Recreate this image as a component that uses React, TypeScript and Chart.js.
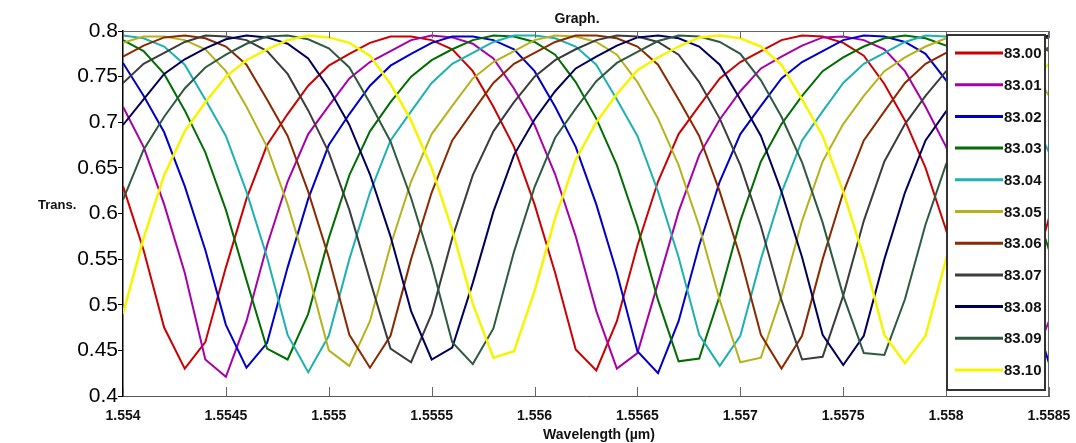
import React, { useEffect, useRef } from "react";
import { Chart, registerables } from "chart.js";

Chart.register(...registerables);

const wavelengths = [
  1.554, 1.5541, 1.5542, 1.5543, 1.5544, 1.5545, 1.5546, 1.5547, 1.5548, 1.5549,
  1.555, 1.5551, 1.5552, 1.5553, 1.5554, 1.5555, 1.5556, 1.5557, 1.5558, 1.5559,
  1.556, 1.5561, 1.5562, 1.5563, 1.5564, 1.5565, 1.5566, 1.5567, 1.5568, 1.5569,
  1.557, 1.5571, 1.5572, 1.5573, 1.5574, 1.5575, 1.5576, 1.5577, 1.5578, 1.5579,
  1.558, 1.5581, 1.5582, 1.5583, 1.5584, 1.5585,
];

const seriesLabels = ["83.00", "83.01", "83.02", "83.03", "83.04", "83.05", "83.06", "83.07", "83.08", "83.09", "83.10"];
const seriesColors = ["#cc0000", "#a800a8", "#0000c8", "#006e00", "#1fb0b0", "#b5b21c", "#8a2a00", "#3c3c3c", "#00005a", "#2e5a40", "#f5f500"];

const t8300 = [
  0.630, 0.560, 0.475, 0.430, 0.459, 0.541, 0.616, 0.675, 0.709, 0.740,
  0.762, 0.775, 0.787, 0.794, 0.794, 0.790, 0.780, 0.756, 0.717, 0.673,
  0.610, 0.535, 0.451, 0.428, 0.482, 0.565, 0.635, 0.687, 0.718, 0.748,
  0.766, 0.778, 0.790, 0.795, 0.794, 0.787, 0.773, 0.742, 0.702, 0.650,
  0.582, 0.501, 0.432, 0.440, 0.515, 0.595,
];
const t8301 = [
  0.717, 0.673, 0.610, 0.535, 0.440, 0.421, 0.482, 0.565, 0.635, 0.687,
  0.718, 0.748, 0.766, 0.778, 0.790, 0.795, 0.793, 0.786, 0.770, 0.737,
  0.697, 0.643, 0.575, 0.493, 0.430, 0.447, 0.524, 0.602, 0.664, 0.703,
  0.734, 0.759, 0.772, 0.784, 0.793, 0.794, 0.790, 0.780, 0.756, 0.717,
  0.673, 0.610, 0.535, 0.451, 0.427, 0.482,
];
const t8302 = [
  0.765, 0.729, 0.689, 0.630, 0.560, 0.478, 0.431, 0.458, 0.541, 0.616,
  0.675, 0.709, 0.740, 0.762, 0.775, 0.787, 0.794, 0.794, 0.790, 0.780,
  0.756, 0.717, 0.673, 0.610, 0.535, 0.449, 0.425, 0.482, 0.565, 0.635,
  0.687, 0.718, 0.748, 0.766, 0.778, 0.790, 0.795, 0.794, 0.788, 0.775,
  0.746, 0.706, 0.656, 0.590, 0.510, 0.436,
];
const t8303 = [
  0.790, 0.778, 0.753, 0.713, 0.667, 0.604, 0.527, 0.452, 0.440, 0.490,
  0.573, 0.642, 0.690, 0.722, 0.750, 0.768, 0.780, 0.790, 0.795, 0.794,
  0.788, 0.774, 0.744, 0.704, 0.653, 0.586, 0.505, 0.438, 0.441, 0.510,
  0.592, 0.657, 0.698, 0.729, 0.756, 0.771, 0.783, 0.792, 0.795, 0.792,
  0.784, 0.765, 0.729, 0.689, 0.630, 0.560,
];
const t8304 = [
  0.795, 0.792, 0.783, 0.763, 0.725, 0.685, 0.624, 0.552, 0.467, 0.426,
  0.466, 0.550, 0.623, 0.680, 0.712, 0.743, 0.764, 0.776, 0.788, 0.795,
  0.795, 0.792, 0.783, 0.763, 0.725, 0.685, 0.624, 0.552, 0.467, 0.433,
  0.466, 0.550, 0.623, 0.680, 0.712, 0.743, 0.764, 0.776, 0.788, 0.795,
  0.794, 0.790, 0.778, 0.753, 0.713, 0.667,
];
const t8305 = [
  0.787, 0.794, 0.794, 0.790, 0.780, 0.756, 0.717, 0.673, 0.610, 0.535,
  0.450, 0.433, 0.482, 0.565, 0.635, 0.687, 0.718, 0.748, 0.766, 0.778,
  0.790, 0.795, 0.794, 0.788, 0.774, 0.744, 0.704, 0.653, 0.586, 0.505,
  0.437, 0.442, 0.510, 0.592, 0.657, 0.698, 0.729, 0.756, 0.771, 0.783,
  0.792, 0.795, 0.792, 0.784, 0.765, 0.729,
];
const t8306 = [
  0.772, 0.784, 0.793, 0.795, 0.792, 0.783, 0.763, 0.725, 0.685, 0.624,
  0.552, 0.467, 0.431, 0.466, 0.550, 0.623, 0.680, 0.712, 0.743, 0.764,
  0.776, 0.788, 0.795, 0.795, 0.792, 0.783, 0.763, 0.725, 0.685, 0.624,
  0.552, 0.467, 0.430, 0.466, 0.550, 0.623, 0.680, 0.712, 0.743, 0.764,
  0.776, 0.788, 0.795, 0.794, 0.790, 0.778,
];
const t8307 = [
  0.743, 0.764, 0.776, 0.788, 0.795, 0.794, 0.790, 0.778, 0.753, 0.713,
  0.667, 0.604, 0.527, 0.452, 0.437, 0.490, 0.573, 0.642, 0.690, 0.722,
  0.750, 0.768, 0.780, 0.790, 0.795, 0.794, 0.788, 0.774, 0.744, 0.704,
  0.653, 0.586, 0.505, 0.440, 0.443, 0.510, 0.592, 0.657, 0.698, 0.729,
  0.756, 0.771, 0.783, 0.792, 0.795, 0.792,
];
const t8308 = [
  0.697, 0.725, 0.753, 0.769, 0.781, 0.791, 0.795, 0.793, 0.786, 0.770,
  0.737, 0.697, 0.643, 0.575, 0.493, 0.440, 0.453, 0.524, 0.602, 0.664,
  0.703, 0.734, 0.759, 0.772, 0.784, 0.793, 0.795, 0.792, 0.783, 0.763,
  0.725, 0.685, 0.624, 0.552, 0.467, 0.434, 0.466, 0.550, 0.623, 0.680,
  0.712, 0.743, 0.764, 0.776, 0.788, 0.795,
];
const t8309 = [
  0.615, 0.670, 0.706, 0.737, 0.760, 0.774, 0.786, 0.794, 0.795, 0.791,
  0.781, 0.760, 0.721, 0.679, 0.617, 0.544, 0.459, 0.435, 0.474, 0.558,
  0.629, 0.683, 0.715, 0.745, 0.765, 0.777, 0.789, 0.795, 0.794, 0.788,
  0.775, 0.746, 0.706, 0.656, 0.590, 0.510, 0.447, 0.445, 0.506, 0.588,
  0.654, 0.697, 0.728, 0.755, 0.770, 0.782,
];
const t8310 = [
  0.490, 0.573, 0.642, 0.690, 0.722, 0.750, 0.768, 0.780, 0.790, 0.795,
  0.793, 0.787, 0.773, 0.742, 0.702, 0.650, 0.582, 0.501, 0.442, 0.449,
  0.515, 0.595, 0.659, 0.700, 0.731, 0.757, 0.771, 0.783, 0.793, 0.795,
  0.792, 0.783, 0.763, 0.725, 0.685, 0.624, 0.552, 0.467, 0.436, 0.466,
  0.550, 0.623, 0.680, 0.712, 0.743, 0.764,
];

const seriesValues = [t8300, t8301, t8302, t8303, t8304, t8305, t8306, t8307, t8308, t8309, t8310];

const xTicks = [1.554, 1.5545, 1.555, 1.5555, 1.556, 1.5565, 1.557, 1.5575, 1.558, 1.5585];
const xTickLabels = ["1.554", "1.5545", "1.555", "1.5555", "1.556", "1.5565", "1.557", "1.5575", "1.558", "1.5585"];
const yTicks = [0.4, 0.45, 0.5, 0.55, 0.6, 0.65, 0.7, 0.75, 0.8];
const yTickLabels = ["0.4", "0.45", "0.5", "0.55", "0.6", "0.65", "0.7", "0.75", "0.8"];

const chartTitle = "Graph.";
const xTitle = "Wavelength (\u00b5m)";
const yTitle = "Trans.";

const FONT = '"Liberation Sans", Arial, Helvetica, sans-serif';

const decorPlugin = {
  id: "decor",
  afterDatasetsDraw(chart: any) {
    const { ctx, chartArea: ca, scales } = chart;
    const xs = scales.x;
    ctx.save();
    ctx.strokeStyle = "#666";
    ctx.lineWidth = 1;
    ctx.beginPath();
    ctx.moveTo(ca.left, ca.top + 0.5);
    ctx.lineTo(ca.right, ca.top + 0.5);
    ctx.moveTo(ca.right - 0.5, ca.top);
    ctx.lineTo(ca.right - 0.5, ca.bottom);
    xTicks.forEach((v) => {
      const px = Math.round(xs.getPixelForValue(v)) + 0.5;
      ctx.moveTo(px, ca.bottom);
      ctx.lineTo(px, ca.bottom - 9);
      ctx.moveTo(px, ca.top);
      ctx.lineTo(px, ca.top + 7);
    });
    ctx.stroke();
    ctx.restore();
  },
  afterDraw(chart: any) {
    const { ctx, chartArea: ca } = chart;
    ctx.save();
    // legend box
    const lx = ca.right - 102;
    const rx = ca.right - 4;
    const ty = ca.top + 4;
    const by = ca.bottom - 6;
    ctx.fillStyle = "#ffffff";
    ctx.fillRect(lx, ty, rx - lx, by - ty);
    ctx.strokeStyle = "#333";
    ctx.lineWidth = 2;
    ctx.strokeRect(lx, ty, rx - lx, by - ty);
    const step = (by - ty - 38) / (seriesLabels.length - 1);
    ctx.font = `bold 15px ${FONT}`;
    ctx.textAlign = "left";
    ctx.textBaseline = "middle";
    seriesLabels.forEach((lab, k) => {
      const y = ty + 18 + k * step;
      ctx.strokeStyle = seriesColors[k];
      ctx.lineWidth = 3;
      ctx.beginPath();
      ctx.moveTo(lx + 8, y);
      ctx.lineTo(lx + 56, y);
      ctx.stroke();
      ctx.fillStyle = "#111";
      ctx.fillText(lab, lx + 57, y + 1);
    });
    // titles
    ctx.fillStyle = "#111";
    ctx.textBaseline = "alphabetic";
    ctx.textAlign = "center";
    ctx.font = `bold 14px ${FONT}`;
    ctx.fillText(chartTitle, 577, 23);
    ctx.fillText(xTitle, 599, 439);
    ctx.textAlign = "left";
    ctx.font = `bold 13px ${FONT}`;
    ctx.fillText(yTitle, 38, 209);
    ctx.restore();
  },
};

export default function App() {
  const canvasRef = useRef<HTMLCanvasElement | null>(null);

  useEffect(() => {
    const canvas = canvasRef.current;
    if (!canvas) return;
    const datasets = seriesValues.map((vals, k) => ({
      label: seriesLabels[k],
      data: wavelengths.map((w, i) => ({ x: w, y: vals[i] })),
      borderColor: seriesColors[k],
      backgroundColor: seriesColors[k],
      borderWidth: k === 10 ? 2.5 : 2,
      pointRadius: 0,
      tension: 0,
      fill: false,
      order: 10 - k,
    }));
    const chart = new Chart(canvas, {
      type: "line",
      data: { datasets },
      options: {
        animation: false,
        responsive: false,
        devicePixelRatio: 1,
        layout: { padding: { top: 31, right: 27, left: 0, bottom: 0 } },
        plugins: {
          legend: { display: false },
          title: { display: false },
          tooltip: { enabled: false },
        },
        scales: {
          x: {
            type: "linear",
            min: 1.554,
            max: 1.5585,
            afterFit: (s: any) => {
              s.height = 47;
            },
            afterBuildTicks: (s: any) => {
              s.ticks = xTicks.map((v) => ({ value: v }));
            },
            ticks: {
              autoSkip: false,
              maxRotation: 0,
              padding: 4,
              color: "#111",
              font: { family: FONT, size: 14, weight: "bold" },
              callback: (_v: any, i: number) => xTickLabels[i],
            },
            grid: { display: false },
            border: { display: true, color: "#555", width: 1 },
          },
          y: {
            type: "linear",
            min: 0.4,
            max: 0.8,
            afterFit: (s: any) => {
              s.width = 123;
            },
            afterBuildTicks: (s: any) => {
              s.ticks = yTicks.map((v) => ({ value: v }));
            },
            ticks: {
              padding: 0,
              color: "#000",
              font: { family: FONT, size: 21 },
              callback: (_v: any, i: number) => yTickLabels[i],
            },
            grid: {
              display: true,
              drawOnChartArea: false,
              drawTicks: true,
              tickLength: 5,
              color: "#000",
            },
            border: { display: true, color: "#000", width: 1.5 },
          },
        },
      },
      plugins: [decorPlugin],
    } as any);
    return () => chart.destroy();
  }, []);

  return (
    <div style={{ position: "fixed", left: 0, top: 0, width: 1076, height: 443, background: "#fff" }}>
      <canvas ref={canvasRef} width={1076} height={443} style={{ display: "block" }} />
    </div>
  );
}
